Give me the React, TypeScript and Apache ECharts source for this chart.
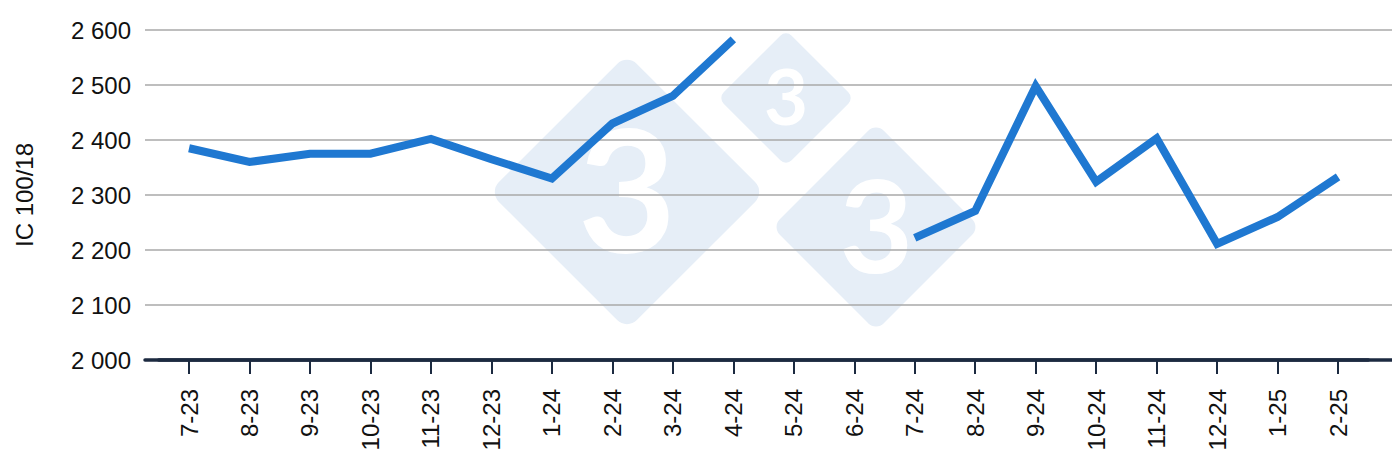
import { useEffect, useRef } from 'react';
import * as echarts from 'echarts';

const months = [
  '7-23', '8-23', '9-23', '10-23', '11-23', '12-23', '1-24', '2-24', '3-24', '4-24',
  '5-24', '6-24', '7-24', '8-24', '9-24', '10-24', '11-24', '12-24', '1-25', '2-25',
];

const priceIndex = [
  2385, 2360, 2375, 2375, 2402, 2365, 2330, 2430, 2480, 2583,
  null, null, 2222, 2271, 2498, 2324, 2403, 2211, 2260, 2333,
];

const yMin = 2000;
const yMax = 2600;
const yStep = 100;

const FONT = '"Liberation Sans", Arial, Helvetica, sans-serif';
const NAVY = '#1c2a40';

// watermark: three rotated rounded squares with a "3"
const marks = [
  { cx: 627, cy: 192, half: 138, font: 170, r: 14 },
  { cx: 786, cy: 98, half: 68, font: 76, r: 8 },
  { cx: 876, cy: 227, half: 104, font: 128, r: 11 },
];

function formatThousands(v: number) {
  return String(v).replace(/\B(?=(\d{3})+(?!\d))/g, ' ');
}

export default function App() {
  const chartRef = useRef<HTMLDivElement>(null);

  useEffect(() => {
    if (!chartRef.current) return;
    const chart = echarts.init(chartRef.current, null, { renderer: 'svg' });

    const graphic: any[] = [];
    marks.forEach((m) => {
      const side = m.half * Math.SQRT2;
      graphic.push({
        type: 'rect',
        x: m.cx,
        y: m.cy,
        rotation: Math.PI / 4,
        z: -10,
        shape: { x: -side / 2, y: -side / 2, width: side, height: side, r: m.r },
        style: { fill: '#e6eef7' },
        silent: true,
      });
      graphic.push({
        type: 'text',
        x: m.cx,
        y: m.cy - m.font * 0.03,
        z: -9,
        style: {
          text: '3',
          fill: '#ffffff',
          fontSize: m.font,
          fontWeight: 'bold',
          fontFamily: 'Lato, "Open Sans", sans-serif',
          align: 'center',
          verticalAlign: 'middle',
        },
        silent: true,
      });
    });

    const option = {
      animation: false,
      backgroundColor: '#ffffff',
      textStyle: { fontFamily: FONT },
      graphic,
      grid: [
        { left: 145, right: 7, top: 30, bottom: 107 },
        { left: 158.8, right: 31.7, top: 30, bottom: 107 },
      ],
      xAxis: [
        {
          type: 'value',
          gridIndex: 0,
          min: 0,
          max: 1,
          axisLabel: { show: false },
          axisTick: { show: false },
          splitLine: { show: false },
          axisLine: { show: true, lineStyle: { color: NAVY, width: 3.5 } },
          z: 3,
        },
        {
          type: 'category',
          gridIndex: 1,
          data: months,
          boundaryGap: true,
          axisLine: { show: true, lineStyle: { color: NAVY, width: 3.5 } },
          axisTick: {
            show: true,
            alignWithLabel: true,
            length: 14,
            lineStyle: { color: NAVY, width: 2 },
          },
          axisLabel: {
            rotate: 90,
            margin: 29,
            interval: 0,
            color: '#111111',
            fontSize: 24,
            fontFamily: FONT,
          },
          z: 3,
        },
      ],
      yAxis: [
        {
          type: 'value',
          gridIndex: 0,
          min: yMin,
          max: yMax,
          interval: yStep,
          name: 'IC 100/18',
          nameLocation: 'middle',
          nameRotate: 90,
          nameGap: 109,
          nameTextStyle: { color: '#111111', fontSize: 24, fontFamily: FONT },
          axisLine: { show: false },
          axisTick: { show: false },
          axisLabel: {
            margin: 14,
            color: '#111111',
            fontSize: 24,
            fontFamily: FONT,
            formatter: (v: number) => formatThousands(v),
          },
          splitLine: { show: true, lineStyle: { color: '#a8a8a8', width: 1.5 } },
        },
        {
          type: 'value',
          gridIndex: 1,
          min: yMin,
          max: yMax,
          interval: yStep,
          axisLine: { show: false },
          axisTick: { show: false },
          axisLabel: { show: false },
          splitLine: { show: false },
        },
      ],
      series: [
        {
          type: 'line',
          xAxisIndex: 1,
          yAxisIndex: 1,
          data: priceIndex,
          connectNulls: false,
          showSymbol: false,
          symbol: 'none',
          lineStyle: { color: '#1f78d1', width: 8, join: 'miter', cap: 'butt' },
          z: 5,
        },
      ],
    };

    chart.setOption(option);
    return () => chart.dispose();
  }, []);

  return <div ref={chartRef} style={{ width: 1400, height: 467, margin: -8 }} />;
}
